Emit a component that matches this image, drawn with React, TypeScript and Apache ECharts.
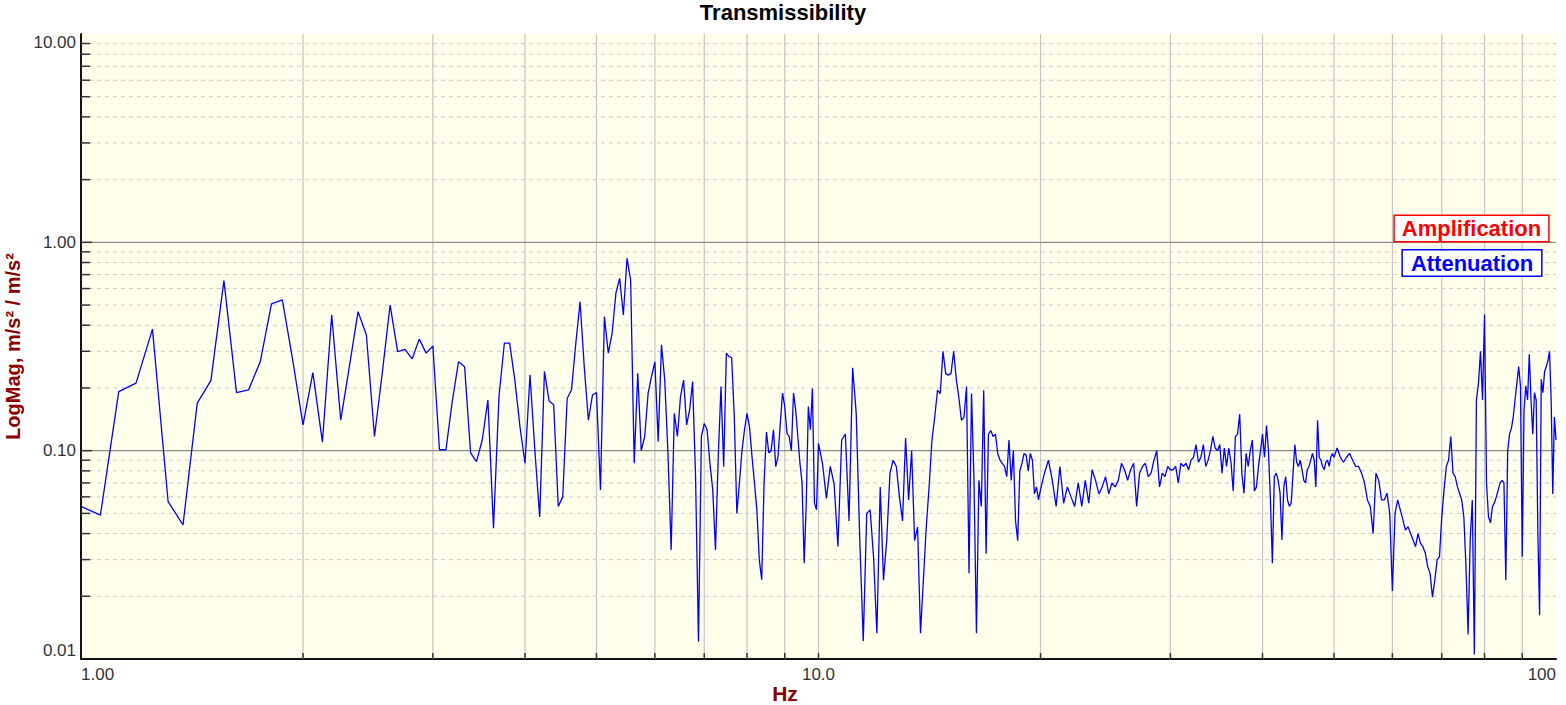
import React, { useEffect, useRef } from "react";
import * as echarts from "echarts";

// ---- Data ----
// Segment 1: 1.0 Hz .. 10.0 Hz, step 0.0625 Hz
const LOW_START = 1.0;
const LOW_STEP = 0.0625;
const lowValues = [
  0.054, 0.049, 0.192, 0.211, 0.383, 0.057, 0.044, 0.169, 0.217, 0.655, 0.190, 0.196, 0.267, 0.506, 0.529, 0.27,
  0.133, 0.237, 0.110, 0.448, 0.140, 0.256, 0.465, 0.359, 0.117, 0.239, 0.50, 0.299, 0.306, 0.276, 0.343, 0.294,
  0.318, 0.101, 0.101, 0.173, 0.267, 0.253, 0.0975, 0.0886, 0.1125, 0.175, 0.0424, 0.182, 0.328, 0.328, 0.218, 0.130,
  0.087, 0.231, 0.100, 0.048, 0.240, 0.173, 0.166, 0.054, 0.060, 0.178, 0.196, 0.328, 0.519, 0.253, 0.140, 0.185,
  0.19, 0.0648, 0.44, 0.294, 0.366, 0.57, 0.672, 0.448, 0.839, 0.66, 0.087, 0.235, 0.10, 0.117, 0.189, 0.227,
  0.267, 0.1105, 0.322, 0.218, 0.0975, 0.0334, 0.151, 0.117, 0.182, 0.218, 0.133, 0.157, 0.2145, 0.075, 0.0121, 0.117,
  0.135, 0.126, 0.087, 0.065, 0.0334, 0.0936, 0.203, 0.0838, 0.294, 0.283, 0.28, 0.146, 0.050, 0.070, 0.10, 0.126,
  0.151, 0.130, 0.0936, 0.070, 0.052, 0.030, 0.024, 0.070, 0.123, 0.0975, 0.10, 0.126, 0.0838, 0.0936, 0.135, 0.189,
  0.163, 0.121, 0.117, 0.10, 0.189, 0.157, 0.117, 0.087, 0.070, 0.0288, 0.056, 0.163, 0.126, 0.199, 0.056, 0.052,
  0.1085,
];

// Segment 2: 10.125 Hz .. 20 Hz, step 0.125 Hz
const MID_START = 10.125;
const MID_STEP = 0.125;
const midValues = [
  0.087, 0.059, 0.084, 0.069, 0.0347, 0.1125, 0.12, 0.046,
  0.25, 0.151, 0.0373, 0.0122, 0.05, 0.052, 0.031, 0.0133,
  0.067, 0.0239, 0.0373, 0.078, 0.090, 0.084, 0.060, 0.046,
  0.115, 0.058, 0.10, 0.037, 0.043, 0.0133, 0.024, 0.043,
  0.067, 0.1125, 0.145, 0.195, 0.188, 0.30, 0.235, 0.23,
  0.235, 0.30, 0.22, 0.18, 0.14, 0.145, 0.203, 0.0258,
  0.188, 0.072, 0.0133, 0.072, 0.054, 0.195, 0.032, 0.12,
  0.125, 0.117, 0.12, 0.097, 0.09, 0.087, 0.084, 0.075,
  0.1125, 0.072, 0.10, 0.046, 0.037, 0.08, 0.087, 0.097,
  0.095, 0.08, 0.097, 0.09, 0.062, 0.067, 0.058, 0.065,
];

// Segment 3: 20.25 Hz .. 50 Hz, step 0.25 Hz
const HIGH_START = 20.25;
const HIGH_STEP = 0.25;
const highValues = [
  0.078, 0.09, 0.072, 0.054,
  0.084, 0.056, 0.067, 0.060,
  0.054, 0.07, 0.054, 0.072,
  0.056, 0.081, 0.072, 0.062,
  0.067, 0.075, 0.062, 0.07,
  0.067, 0.072, 0.087, 0.081,
  0.072, 0.081, 0.087, 0.054,
  0.078, 0.084, 0.087, 0.075,
  0.078, 0.09, 0.10, 0.067,
  0.078, 0.075, 0.084, 0.081,
  0.081, 0.084, 0.07, 0.087,
  0.084, 0.087, 0.081, 0.090,
  0.093, 0.107, 0.088, 0.093,
  0.107, 0.084, 0.090, 0.10,
  0.117, 0.103, 0.10, 0.107,
  0.078, 0.103, 0.084, 0.103,
  0.088, 0.064, 0.117, 0.12,
  0.15, 0.078, 0.0625, 0.097,
  0.084, 0.10, 0.1125, 0.064,
  0.067, 0.084, 0.10, 0.12,
  0.093, 0.132, 0.10, 0.058,
  0.0288, 0.075, 0.078, 0.072,
  0.0625, 0.0373, 0.067, 0.075,
  0.058, 0.054, 0.056, 0.078,
  0.107, 0.088, 0.084, 0.090,
  0.081, 0.072, 0.07, 0.081,
  0.084, 0.090, 0.097, 0.090,
  0.067, 0.14, 0.093, 0.090,
  0.084, 0.081, 0.088, 0.090,
  0.084, 0.093, 0.097, 0.093,
];

// Segment 4: 50.5 Hz .. 100 Hz, step 0.5 Hz
const TOP_START = 50.5;
const TOP_STEP = 0.5;
const topValues = [
  0.103, 0.093, 0.088, 0.093, 0.097, 0.090, 0.084, 0.084, 0.078, 0.07,
  0.058, 0.054, 0.040, 0.078, 0.072, 0.058, 0.058, 0.0625, 0.05, 0.0212,
  0.05, 0.058, 0.052, 0.0465, 0.0415, 0.0432, 0.040, 0.0373, 0.0346, 0.040,
  0.036, 0.0346, 0.0322, 0.0277, 0.0257, 0.0198, 0.0239, 0.0299, 0.031, 0.048,
  0.0648, 0.0838, 0.090, 0.117, 0.078, 0.075, 0.0672, 0.0625, 0.058, 0.048,
  0.0277, 0.0131, 0.0373, 0.058, 0.0105, 0.175, 0.211, 0.30, 0.175, 0.45,
  0.07, 0.048, 0.045, 0.054, 0.056, 0.06, 0.0648, 0.07, 0.072, 0.07,
  0.0239, 0.10, 0.12, 0.128, 0.145, 0.175, 0.211, 0.253, 0.205, 0.031,
  0.157, 0.205, 0.175, 0.29, 0.175, 0.12, 0.19, 0.175, 0.040, 0.0162,
  0.22, 0.19, 0.24, 0.253, 0.27, 0.30, 0.175, 0.062, 0.145, 0.1125,
];

const xTickLabels = ["1.00", "10.0", "100"]; // 10^0, 10^1, 10^2
const yTickLabels = ["0.01", "0.10", "1.00", "10.00"]; // 10^-2 .. 10^1
const xGridValues = [2, 3, 4, 5, 6, 7, 8, 9, 10, 20, 30, 40, 50, 60, 70, 80, 90];
const yMinorValues = [
  0.02, 0.03, 0.04, 0.05, 0.06, 0.07, 0.08, 0.09,
  0.2, 0.3, 0.4, 0.5, 0.6, 0.7, 0.8, 0.9,
  2, 3, 4, 5, 6, 7, 8, 9,
];
const yMajorValues = [0.1, 1];

const FONT = '"Liberation Sans", Arial, Helvetica, sans-serif';

function segment(start: number, step: number, vals: number[]) {
  return vals.map((v, i) => [Math.round((start + i * step) * 10000) / 10000, v]);
}

export default function App() {
  const ref = useRef<HTMLDivElement>(null);

  useEffect(() => {
    document.body.style.margin = "0";
    if (!ref.current) return;
    const chart = echarts.init(ref.current, undefined, { renderer: "svg" });

    const lineData = [
      ...segment(LOW_START, LOW_STEP, lowValues),
      ...segment(MID_START, MID_STEP, midValues),
      ...segment(HIGH_START, HIGH_STEP, highValues),
      ...segment(TOP_START, TOP_STEP, topValues),
    ];

    const option: any = {
      animation: false,
      backgroundColor: "#ffffff",
      title: {
        text: "Transmissibility",
        left: "center",
        top: 1,
        padding: 0,
        textStyle: { fontSize: 22, fontWeight: "bold", color: "#000", fontFamily: FONT },
      },
      grid: {
        left: 81,
        right: 10,
        top: 34,
        bottom: 46,
        show: true,
        backgroundColor: "#FFFFEC",
        borderWidth: 0,
        containLabel: false,
        outerBoundsMode: "none",
      },
      xAxis: {
        type: "log",
        logBase: 10,
        min: 1,
        max: 100,
        axisLine: { show: true, lineStyle: { color: "#111", width: 2 } },
        axisTick: { show: false },
        splitLine: { show: false },
        minorTick: { show: false },
        axisLabel: {
          color: "#333",
          fontSize: 17,
          fontFamily: FONT,
          margin: 7,
          alignMinLabel: "left",
          alignMaxLabel: "right",
          formatter: (v: number) => xTickLabels[Math.round(Math.log10(v))] ?? "",
        },
      },
      yAxis: {
        type: "log",
        logBase: 10,
        min: 0.01,
        max: 10,
        name: "LogMag, m/s² / m/s²",
        nameLocation: "middle",
        nameGap: 56,
        nameRotate: 90,
        nameTextStyle: {
          color: "#8B0000",
          fontWeight: "bold",
          fontSize: 20,
          fontFamily: FONT,
        },
        axisLine: { show: true, lineStyle: { color: "#111", width: 2 } },
        axisTick: { show: false },
        splitLine: { show: false },
        axisLabel: {
          color: "#333",
          fontSize: 17,
          fontFamily: FONT,
          margin: 5,
          verticalAlignMinLabel: "bottom",
          verticalAlignMaxLabel: "top",
          formatter: (v: number) => yTickLabels[Math.round(Math.log10(v)) + 2] ?? "",
        },
      },
      series: [
        {
          type: "custom",
          name: "xgrid",
          silent: true,
          z: 1,
          data: xGridValues.map((v) => [v, 1]),
          renderItem: (params: any, api: any) => {
            const cs = params.coordSys;
            const x = api.coord([api.value(0), 1])[0];
            const bottom = cs.y + cs.height;
            return {
              type: "group",
              children: [
                { type: "line", shape: { x1: x, y1: cs.y, x2: x, y2: bottom }, style: { stroke: "#C4C4C4", lineWidth: 1.2 } },
                { type: "line", shape: { x1: x, y1: bottom - 6, x2: x, y2: bottom }, style: { stroke: "#333", lineWidth: 1.5 } },
              ],
            };
          },
        },
        {
          type: "custom",
          name: "yminor",
          silent: true,
          z: 1,
          data: yMinorValues.map((v) => [1, v]),
          renderItem: (params: any, api: any) => {
            const cs = params.coordSys;
            const y = api.coord([1, api.value(1)])[1];
            return {
              type: "group",
              children: [
                { type: "line", shape: { x1: cs.x, y1: y, x2: cs.x + cs.width, y2: y }, style: { stroke: "#C8C8C8", lineWidth: 1, lineDash: [4, 4] } },
                { type: "line", shape: { x1: cs.x, y1: y, x2: cs.x + 9, y2: y }, style: { stroke: "#333", lineWidth: 1.5 } },
              ],
            };
          },
        },
        {
          type: "custom",
          name: "ymajor",
          silent: true,
          z: 1,
          data: yMajorValues.map((v) => [1, v]),
          renderItem: (params: any, api: any) => {
            const cs = params.coordSys;
            const y = api.coord([1, api.value(1)])[1];
            return {
              type: "group",
              children: [
                { type: "line", shape: { x1: cs.x, y1: y, x2: cs.x + cs.width, y2: y }, style: { stroke: "#8C8C8C", lineWidth: 1.2 } },
                { type: "line", shape: { x1: cs.x, y1: y, x2: cs.x + 11, y2: y }, style: { stroke: "#333", lineWidth: 1.5 } },
              ],
            };
          },
        },
        {
          type: "line",
          name: "Transmissibility",
          data: lineData,
          symbol: "none",
          showSymbol: false,
          z: 5,
          clip: true,
          lineStyle: { color: "#0000FF", width: 1.3 },
          itemStyle: { color: "#0000FF" },
        },
      ],
      graphic: [
        {
          type: "text",
          x: 785,
          y: 693,
          z: 20,
          style: {
            text: "Hz",
            fill: "#8B0000",
            font: `bold 21px ${FONT}`,
            align: "center",
            verticalAlign: "middle",
          },
        },
        {
          type: "text",
          x: 1471.5,
          y: 228.5,
          z: 20,
          style: {
            text: "Amplification",
            fill: "#FF0000",
            font: `bold 22px ${FONT}`,
            align: "center",
            verticalAlign: "middle",
            backgroundColor: "#FFFFFF",
            borderColor: "#FF0000",
            borderWidth: 1.5,
            padding: [2, 7, 1, 7],
          },
        },
        {
          type: "text",
          x: 1472,
          y: 263,
          z: 20,
          style: {
            text: "Attenuation",
            fill: "#0000FF",
            font: `bold 22px ${FONT}`,
            align: "center",
            verticalAlign: "middle",
            backgroundColor: "#FFFFFF",
            borderColor: "#0000FF",
            borderWidth: 1.5,
            padding: [2, 8, 1, 8],
          },
        },
      ],
    };

    chart.setOption(option);
    return () => {
      chart.dispose();
    };
  }, []);

  return <div ref={ref} style={{ width: 1566, height: 705 }} />;
}
